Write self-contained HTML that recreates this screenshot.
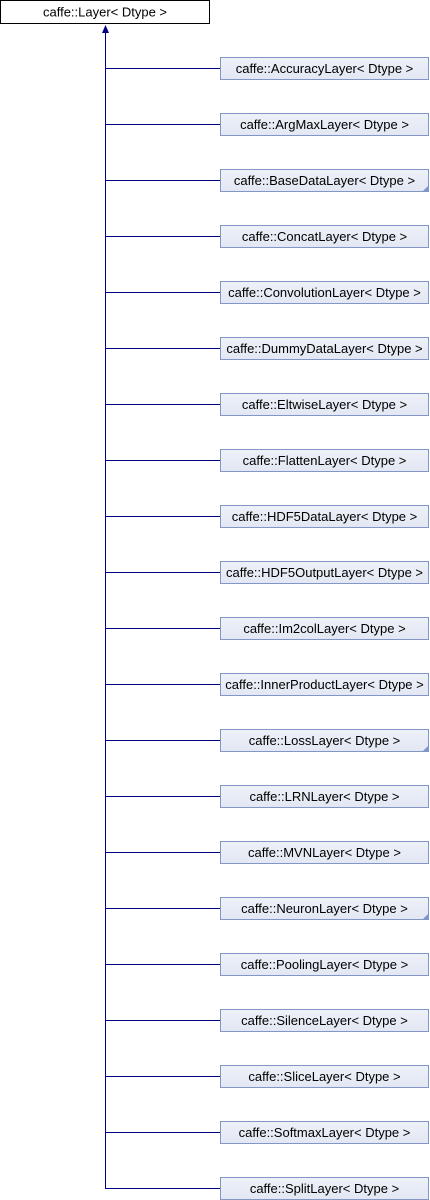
<!DOCTYPE html>
<html><head><meta charset="utf-8"><style>
html,body{margin:0;padding:0;background:#fff;width:430px;height:1200px;overflow:hidden}
svg text{font-family:"Liberation Sans",Helvetica,sans-serif;font-size:13px;fill:#000}
</style></head><body>
<svg width="430" height="1200" xmlns="http://www.w3.org/2000/svg">
<defs><linearGradient id="g" x1="0" y1="0" x2="0" y2="1"><stop offset="0" stop-color="#eef1f8"/><stop offset="1" stop-color="#e2e7f3"/></linearGradient></defs>
<rect x="0.5" y="0.5" width="209" height="23" fill="#fff" stroke="#000"/>
<text x="105" y="16.5" text-anchor="middle">caffe::Layer&lt; Dtype &gt;</text>
<line x1="105.5" y1="30" x2="105.5" y2="1188.5" stroke="#000080" stroke-width="1"/>
<polygon points="105.5,25 102,33 109,33" fill="#000080"/>
<g id="c"></g>
</svg>
<script>
var names=["AccuracyLayer","ArgMaxLayer","BaseDataLayer","ConcatLayer","ConvolutionLayer","DummyDataLayer","EltwiseLayer","FlattenLayer","HDF5DataLayer","HDF5OutputLayer","Im2colLayer","InnerProductLayer","LossLayer","LRNLayer","MVNLayer","NeuronLayer","PoolingLayer","SilenceLayer","SliceLayer","SoftmaxLayer","SplitLayer"];
var tri={"BaseDataLayer":1,"LossLayer":1,"NeuronLayer":1};
var s="";
names.forEach(function(n,i){var y=57+i*56;
s+='<line x1="105" y1="'+(y+11.5)+'" x2="220" y2="'+(y+11.5)+'" stroke="#000080"/>';
s+='<rect x="220.5" y="'+(y+0.5)+'" width="208" height="22" fill="url(#g)" stroke="#8497c4"/>';
if(tri[n])s+='<polygon points="429,'+(y+16)+' 429,'+(y+23)+' 422,'+(y+23)+'" fill="#7f96c8"/>';
s+='<text x="324.5" y="'+(y+16)+'" text-anchor="middle">caffe::'+n+'&lt; Dtype &gt;</text>';});
document.getElementById("c").innerHTML=s;
</script>
</body></html>
